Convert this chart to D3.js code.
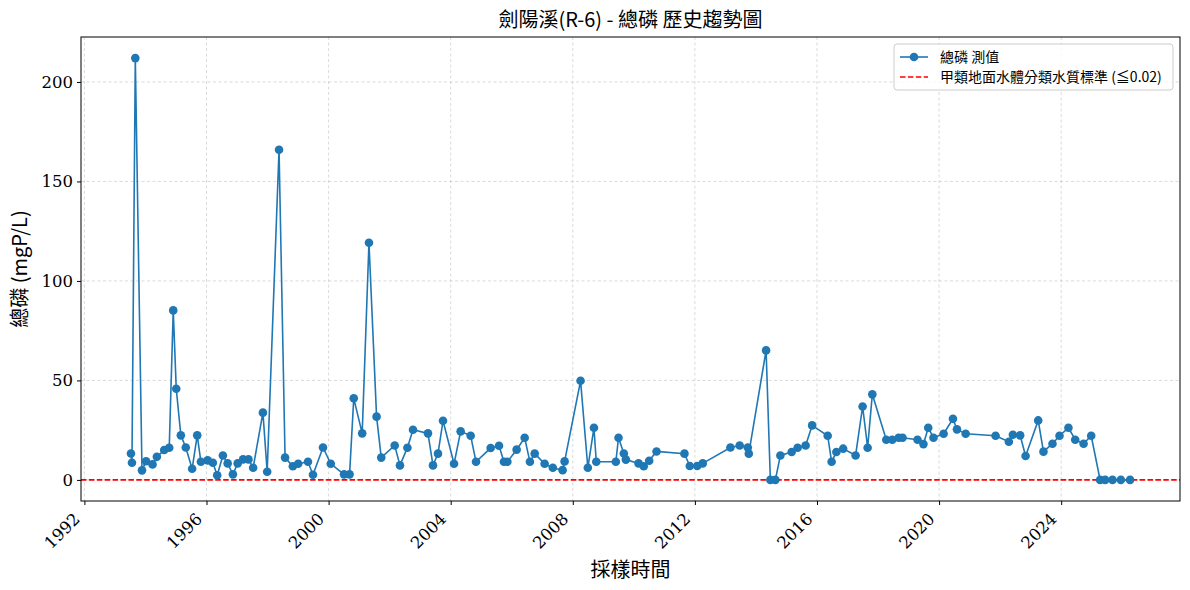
<!DOCTYPE html>
<html>
<head>
<meta charset="utf-8">
<script src="https://cdn.jsdelivr.net/npm/d3@7"></script>
<style>
  body { margin: 0; background: #fff; }
  .tick text { font-family: "DejaVu Serif", serif; font-size: 16.5px; fill: #000; }
  .cjk { font-family: "Noto Sans CJK TC", "DejaVu Serif", sans-serif; }
</style>
</head>
<body>
<div id="chart"></div>
<script>
const dates = [
  "1993-07-11","1993-07-23","1993-09-01","1993-11-20","1994-01-08","1994-03-26","1994-05-17","1994-08-13",
  "1994-10-12","1994-11-29","1995-01-04","1995-02-28","1995-04-28","1995-07-13","1995-09-12","1995-10-26",
  "1996-01-15","1996-03-17","1996-05-08","1996-07-15","1996-09-10","1996-11-12","1997-01-08","1997-03-14",
  "1997-05-17","1997-07-12","1997-11-06","1997-12-27","1998-05-18","1998-07-29","1998-10-30","1999-01-02",
  "1999-04-29","1999-06-28","1999-10-26","2000-01-27","2000-07-04","2000-09-08","2000-10-28","2001-02-06",
  "2001-04-28","2001-07-28","2001-09-22","2002-03-02","2002-05-04","2002-08-01","2002-10-07","2003-04-04",
  "2003-06-03","2003-08-02","2003-10-01","2004-02-10","2004-04-29","2004-08-27","2004-10-30","2005-04-23",
  "2005-08-01","2005-09-29","2005-11-09","2006-02-28","2006-06-04","2006-08-06","2006-10-02","2007-01-29",
  "2007-05-07","2007-09-01","2007-09-25","2008-04-03","2008-06-29","2008-09-10","2008-10-08","2009-05-30",
  "2009-07-01","2009-09-03","2009-09-27","2010-02-26","2010-04-29","2010-07-03","2010-09-29","2011-08-29",
  "2011-11-01","2012-01-29","2012-04-04","2013-03-01","2013-06-20","2013-09-25","2013-10-07","2014-05-02",
  "2014-06-22","2014-08-21","2014-10-20","2015-03-04","2015-05-14","2015-08-18","2015-11-04","2016-05-08",
  "2016-06-24","2016-08-20","2016-11-09","2017-04-07","2017-06-30","2017-08-29","2017-10-24","2018-04-09",
  "2018-06-20","2018-09-04","2018-10-21","2019-04-18","2019-06-28","2019-08-24","2019-10-26","2020-02-24",
  "2020-06-15","2020-08-02","2020-11-14","2021-11-07","2022-04-15","2022-06-02","2022-08-28","2022-11-01",
  "2023-04-01","2023-06-03","2023-09-19","2023-12-12","2024-03-28","2024-06-17","2024-09-25","2024-12-25",
  "2025-04-11","2025-06-10","2025-09-06","2025-12-15","2026-04-04"
];
const values = [
  13.3, 8.6, 212, 4.8, 9.4, 7.8, 11.6, 15,
  16.2, 85.2, 45.8, 22.4, 16.3, 5.6, 22.4, 9.1,
  9.8, 8.6, 2.3, 12.3, 8.3, 2.8, 8.3, 10.3,
  10.3, 6.1, 33.8, 4.1, 165.9, 11.2, 6.9, 8.1,
  9.1, 2.6, 16.3, 8.1, 2.8, 2.8, 41, 23.4,
  119.2, 31.8, 11.2, 17.3, 7.3, 16.2, 25.2, 23.4,
  7.3, 13.2, 29.7, 8.1, 24.4, 22.2, 9.1, 16,
  17.2, 9.1, 9.1, 15.2, 21.2, 9.1, 13.2, 8.1,
  6.1, 4.9, 9.3, 49.8, 6.1, 26.2, 9.1, 9.1,
  21.2, 13.3, 10.2, 8.3, 6.9, 9.6, 14.3, 13.2,
  7, 7, 8.3, 16.3, 17.3, 16.3, 13.2, 65.1,
  0, 0, 12.3, 14, 16.2, 17.3, 27.4, 22.2,
  9.1, 14, 15.7, 12.3, 36.9, 16.2, 43, 20.2,
  20.2, 21.2, 21.2, 20.2, 18, 26.2, 21.2, 23.2,
  30.7, 25.4, 23.2, 22.2, 19.2, 22.7, 22.4, 12,
  29.9, 14.2, 18.2, 22.2, 26.2, 20.2, 18.2, 22.2,
  0, 0, 0, 0, 0
];
const standard = 0.02;
const yTicks = [0, 50, 100, 150, 200];
const xTickYears = [1992, 1996, 2000, 2004, 2008, 2012, 2016, 2020, 2024];

const title = "劍陽溪(R-6) - 總磷 歷史趨勢圖";
const xLabel = "採樣時間";
const yLabel = "總磷 (mgP/L)";
const legendLabels = ["總磷 測值", "甲類地面水體分類水質標準 (≦0.02)"];

const width = 1190;
const height = 590;
const margin = {top: 37, right: 10, bottom: 89, left: 81};
const blue = "#1f77b4";

const parse = d3.timeParse("%Y-%m-%d");
const data = dates.map((d, i) => ({date: parse(d), value: values[i]}));

const svg = d3.select("#chart")
  .append("svg")
  .attr("width", width)
  .attr("height", height);

// matplotlib style 5% padding on both axes
const [t0, t1] = d3.extent(data, d => d.date);
const padT = (t1 - t0) * 0.05;
const x = d3.scaleTime()
  .domain([new Date(+t0 - padT), new Date(+t1 + padT)])
  .range([margin.left, width - margin.right]);

const vMax = d3.max(values), vMin = d3.min(values);
const padV = (vMax - vMin) * 0.05;
const y = d3.scaleLinear()
  .domain([vMin - padV, vMax + padV])
  .range([height - margin.bottom, margin.top]);

const xTicks = xTickYears.map(yr => new Date(yr, 0, 1));

// grid
const grid = svg.append("g")
  .attr("stroke", "#b0b0b0")
  .attr("stroke-opacity", 0.6)
  .attr("stroke-width", 0.8)
  .attr("stroke-dasharray", "3,2.5");
grid.selectAll("line.v")
  .data(xTicks)
  .enter().append("line")
  .attr("x1", d => x(d)).attr("x2", d => x(d))
  .attr("y1", margin.top).attr("y2", height - margin.bottom);
grid.selectAll("line.h")
  .data(yTicks)
  .enter().append("line")
  .attr("x1", margin.left).attr("x2", width - margin.right)
  .attr("y1", d => y(d)).attr("y2", d => y(d));

// standard line
svg.append("line")
  .attr("x1", margin.left).attr("x2", width - margin.right)
  .attr("y1", y(standard)).attr("y2", y(standard))
  .attr("stroke", "red")
  .attr("stroke-width", 1.6)
  .attr("stroke-dasharray", "5.5,2.4");

// series
const line = d3.line()
  .x(d => x(d.date))
  .y(d => y(d.value));

svg.append("path")
  .datum(data)
  .attr("fill", "none")
  .attr("stroke", blue)
  .attr("stroke-width", 1.6)
  .attr("d", line);

svg.selectAll("circle.pt")
  .data(data)
  .enter().append("circle")
  .attr("class", "pt")
  .attr("cx", d => x(d.date))
  .attr("cy", d => y(d.value))
  .attr("r", 4.3)
  .attr("fill", blue);

// frame
svg.append("rect")
  .attr("x", margin.left).attr("y", margin.top)
  .attr("width", width - margin.left - margin.right)
  .attr("height", height - margin.top - margin.bottom)
  .attr("fill", "none")
  .attr("stroke", "#000")
  .attr("stroke-width", 1);

// X axis
const xAxis = svg.append("g")
  .attr("transform", `translate(0, ${height - margin.bottom})`)
  .call(d3.axisBottom(x).tickValues(xTicks).tickFormat(d3.timeFormat("%Y")).tickSize(4).tickPadding(2));
xAxis.select(".domain").remove();
xAxis.selectAll(".tick text")
  .attr("x", 0)
  .attr("y", 0)
  .attr("dy", "0.35em")
  .attr("text-anchor", "end")
  .attr("transform", "translate(-8, 15) rotate(-45)");

// Y axis
const yAxis = svg.append("g")
  .attr("transform", `translate(${margin.left},0)`)
  .call(d3.axisLeft(y).tickValues(yTicks).tickSize(4).tickPadding(4));
yAxis.select(".domain").remove();

// title and axis labels
svg.append("text")
  .attr("class", "cjk")
  .attr("x", (margin.left + width - margin.right) / 2)
  .attr("y", 27)
  .attr("text-anchor", "middle")
  .attr("font-size", 20)
  .text(title);

svg.append("text")
  .attr("class", "cjk")
  .attr("x", (margin.left + width - margin.right) / 2)
  .attr("y", 577)
  .attr("text-anchor", "middle")
  .attr("font-size", 20)
  .text(xLabel);

svg.append("text")
  .attr("class", "cjk")
  .attr("transform", `translate(27, ${(margin.top + height - margin.bottom) / 2}) rotate(-90)`)
  .attr("text-anchor", "middle")
  .attr("font-size", 20)
  .text(yLabel);

// legend
const lg = svg.append("g").attr("transform", "translate(894, 44)");
lg.append("rect")
  .attr("width", 279).attr("height", 46)
  .attr("rx", 3)
  .attr("fill", "#fff")
  .attr("fill-opacity", 0.8)
  .attr("stroke", "#ccc");
lg.append("line")
  .attr("x1", 6).attr("x2", 34).attr("y1", 13).attr("y2", 13)
  .attr("stroke", blue).attr("stroke-width", 1.6);
lg.append("circle")
  .attr("cx", 20).attr("cy", 13).attr("r", 4.3).attr("fill", blue);
lg.append("line")
  .attr("x1", 6).attr("x2", 34).attr("y1", 33).attr("y2", 33)
  .attr("stroke", "red").attr("stroke-width", 1.6)
  .attr("stroke-dasharray", "5.5,2.4");
lg.selectAll("text")
  .data(legendLabels)
  .enter().append("text")
  .attr("class", "cjk")
  .attr("x", 46)
  .attr("y", (d, i) => 13 + i * 20)
  .attr("dy", "0.35em")
  .attr("font-size", 14)
  .text(d => d);
</script>
</body>
</html>
